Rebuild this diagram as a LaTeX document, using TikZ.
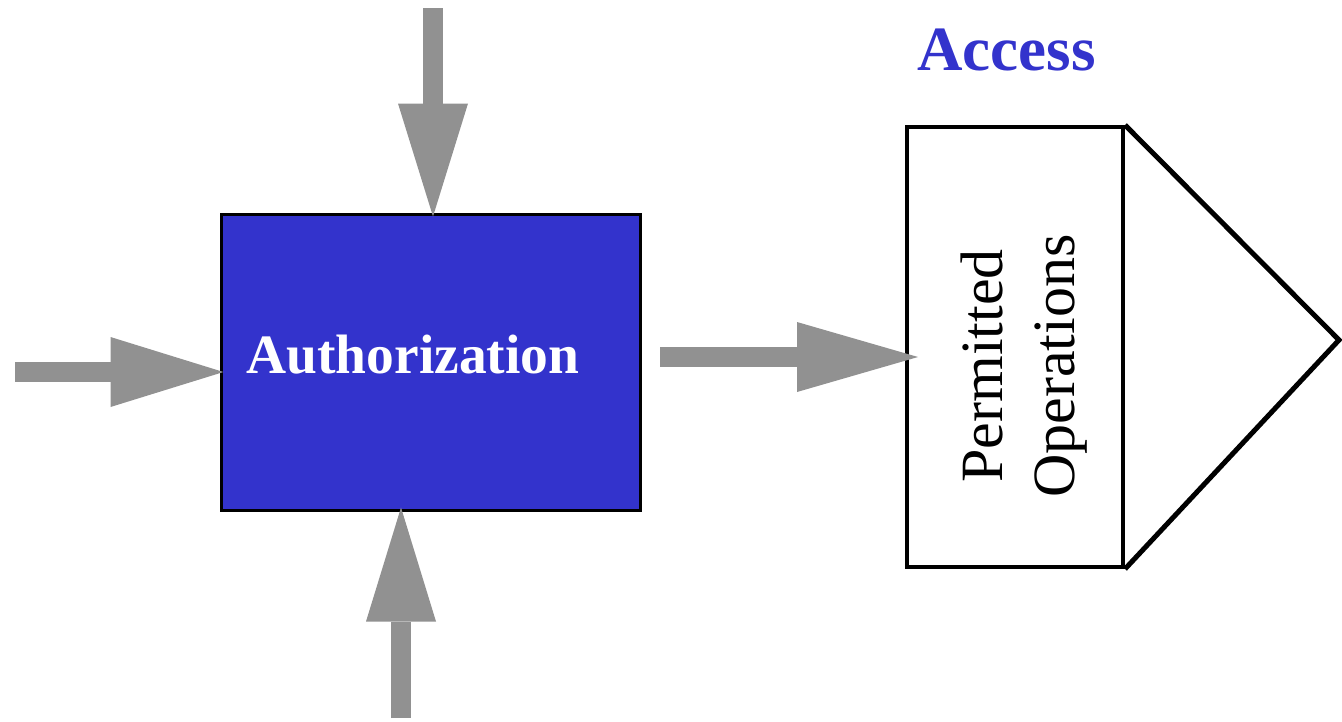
\documentclass[tikz,border=0pt]{standalone}
\usepackage{fontspec}
\setmainfont{Liberation Serif}
\usetikzlibrary{arrows.meta,calc}
\definecolor{authblue}{HTML}{3333CC}
\definecolor{arrowgray}{HTML}{919191}
\tikzset{
  fatarrow/.style={draw=arrowgray, line width=20pt, line cap=butt, shorten >=-4pt,
    -{Triangle[length=#1, width=70pt, line width=0pt]}},
  fatarrow/.default=110pt,
  authbox/.style={draw=black, fill=authblue, line width=3pt, rectangle,
    minimum width=419pt, minimum height=296pt, inner sep=0pt},
  permbox/.style={draw=black, fill=white, line width=4pt, rectangle,
    minimum width=216pt, minimum height=440pt, inner sep=0pt},
  boldlabel/.style={font=\fontsize{#1}{#1}\selectfont\bfseries},
}
\begin{document}
\begin{tikzpicture}[x=1pt,y=-1pt]
  \useasboundingbox (0,0) rectangle (1342,721);

  % Authorization block
  \node[authbox] (auth) at (430.5,362) {};
  \node[boldlabel=55.5pt, text=white, anchor=base] (authtext) at (413,373) {Authorization};

  % Access: permitted operations box with a triangular head
  \node[permbox] (perm) at (1015,347) {};
  \coordinate (tipA) at (1339,340);
  \draw[line width=5pt, line join=miter] (perm.north east) -- (tipA) -- (perm.south east);
  \node[rotate=90, align=center, inner sep=0pt,
        font=\fontsize{60pt}{72pt}\selectfont] (permtext) at (1024,366)
        {Permitted\\Operations};
  \node[boldlabel=63pt, text=authblue, anchor=base] (access) at (1006.5,70) {Access};

  % Free ends of the incoming and outgoing arrows
  \coordinate (inLeft) at (15,372);
  \coordinate (inTop) at (433,8);
  \coordinate (inBottom) at (401,718);
  \coordinate (outRight) at (660,357);

  \draw[fatarrow=113pt] (inLeft) -- (inLeft -| auth.west);
  \draw[fatarrow=113pt] (inTop) -- (inTop |- auth.north);
  \draw[fatarrow=114pt] (inBottom) -- (inBottom |- auth.south);
  \draw[fatarrow=121pt] (outRight) -- ($(outRight -| perm.west)+(9,0)$);
\end{tikzpicture}
\end{document}
